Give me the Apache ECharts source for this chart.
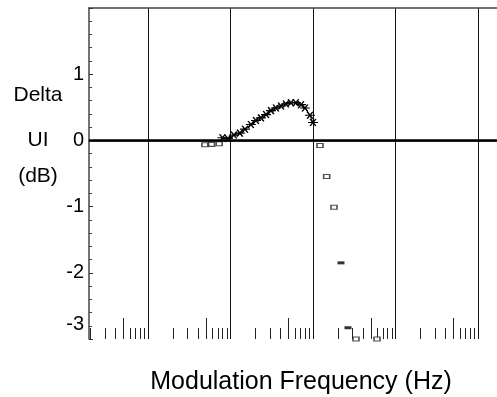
<!doctype html>
<html lang="en">
<head>
    <meta charset="UTF-8">
    <title>Delta UI vs Modulation Frequency</title>
    <style>
        html, body { margin: 0; padding: 0; background: #fff; }
        #chart { width: 497px; height: 397px; }
    </style>
</head>
<body>
<div id="chart"></div>
<script src="https://cdn.jsdelivr.net/npm/echarts@6/dist/echarts.min.js"></script>
<script>
    // crosses (measured set), frequency in Hz / delta in dB
    var crossFreq = [80, 93, 110, 130, 150, 177, 204, 234, 270, 310, 356, 410, 470, 540, 620, 716, 800, 920, 1000];
    var crossVal = [0.04, 0.03, 0.08, 0.11, 0.17, 0.24, 0.30, 0.34, 0.39, 0.45, 0.49, 0.52, 0.55, 0.57, 0.57, 0.54, 0.49, 0.38, 0.27];

    // open squares
    var squareFreq = [49, 59, 73, 1216, 1466, 1798, 3320, 5970];
    var squareVal = [-0.065, -0.06, -0.05, -0.076, -0.545, -1.01, -3.0, -3.0];

    // filled dashes
    var dashFreq = [2185, 2655];
    var dashVal = [-1.85, -2.83];

    var yTicks = [-3, -2, -1, 0, 1, 2];
    var decades = [1, 10, 100, 1000, 10000, 100000];
    var minorMult = [2, 3, 4, 5, 6, 7, 8, 9];
    var yNameLines = ['Delta', 'UI', '(dB)'];

    function pairs(xs, ys) {
        var out = [];
        for (var i = 0; i < xs.length; i++) out.push([xs[i], ys[i]]);
        return out;
    }

    var minorTicks = [];
    decades.forEach(function (d) {
        minorMult.forEach(function (m) {
            minorTicks.push([d * m, m]);
        });
    });

    var font = 'Liberation Sans, Arial, sans-serif';
    var nameY = [95, 140, 176];
    var graphics = yNameLines.map(function (t, i) {
        return {
            type: 'text',
            style: {
                text: t, x: 38, y: nameY[i],
                textAlign: 'center', textVerticalAlign: 'middle',
                fontSize: 21, fontFamily: font, fill: '#000'
            }
        };
    });
    graphics.push({
        type: 'text',
        style: {
            text: 'Modulation Frequency (Hz)',
            x: 301, y: 382,
            textAlign: 'center', textVerticalAlign: 'middle',
            fontSize: 25, fontFamily: font, fill: '#000'
        }
    });

    var myChart = echarts.init(document.getElementById('chart'));
    myChart.setOption({
        animation: false,
        textStyle: { fontFamily: font },
        grid: { left: 89, right: 0, top: 8, bottom: 58 },
        xAxis: [{
            type: 'log',
            logBase: 10,
            min: 1.93,
            max: 170000,
            axisLine: { show: true, lineStyle: { color: '#444', width: 1.5 } },
            axisTick: { show: false },
            axisLabel: { show: false },
            minorTick: { show: false },
            splitLine: { show: true, showMinLine: false, showMaxLine: false, lineStyle: { color: '#111', width: 1 } }
        }, {
            type: 'value',
            position: 'top',
            min: 0,
            max: 1,
            axisLine: { show: true, onZero: false, lineStyle: { color: '#444', width: 1.5 } },
            axisTick: { show: false },
            axisLabel: { show: false },
            splitLine: { show: false }
        }],
        yAxis: {
            type: 'value',
            min: yTicks[0],
            max: yTicks[yTicks.length - 1],
            interval: 1,
            axisLine: { show: true, lineStyle: { color: '#444', width: 1.5 } },
            axisTick: { show: true, inside: true, length: 4, lineStyle: { color: '#333' } },
            minorTick: { show: true, splitNumber: 5, length: 3, lineStyle: { color: '#444' } },
            splitLine: { show: false },
            axisLabel: {
                color: '#000',
                fontSize: 20,
                margin: 5,
                formatter: function (v) {
                    if (v === yTicks[yTicks.length - 1]) return '';
                    if (v === yTicks[0]) return '{low|' + v + '}';
                    return String(v);
                },
                rich: {
                    low: { fontSize: 20, color: '#000', padding: [0, 0, 30, 0] }
                }
            }
        },
        graphic: graphics,
        series: [{
            name: 'ticks',
            type: 'custom',
            silent: true,
            data: minorTicks,
            renderItem: function (params, api) {
                var p = api.coord([api.value(0), yTicks[0]]);
                var x = Math.round(p[0]) + 0.5;
                var len = api.value(1) === 5 ? 21 : 11;
                return {
                    type: 'line',
                    shape: { x1: x, y1: p[1], x2: x, y2: p[1] - len },
                    style: { stroke: '#222', lineWidth: 1 }
                };
            }
        }, {
            name: 'zero',
            type: 'line',
            data: [],
            markLine: {
                silent: true,
                symbol: 'none',
                label: { show: false },
                lineStyle: { color: '#000', width: 2.5, type: 'solid' },
                data: [{ yAxis: 0 }]
            }
        }, {
            name: 'cross',
            type: 'line',
            data: pairs(crossFreq, crossVal),
            symbol: 'path://M0,0L8,8M8,0L0,8M-3,4L11,4',
            symbolSize: [10, 7],
            lineStyle: { color: '#000', width: 1 },
            itemStyle: { color: 'transparent', borderColor: '#000', borderWidth: 1.3 }
        }, {
            name: 'square',
            type: 'scatter',
            data: pairs(squareFreq, squareVal),
            symbol: 'rect',
            symbolSize: [6, 4],
            itemStyle: { color: '#fff', borderColor: '#222', borderWidth: 1.3 }
        }, {
            name: 'dash',
            type: 'scatter',
            data: pairs(dashFreq, dashVal),
            symbol: 'rect',
            symbolSize: [7, 3],
            itemStyle: { color: '#000' }
        }]
    });
</script>
</body>
</html>
